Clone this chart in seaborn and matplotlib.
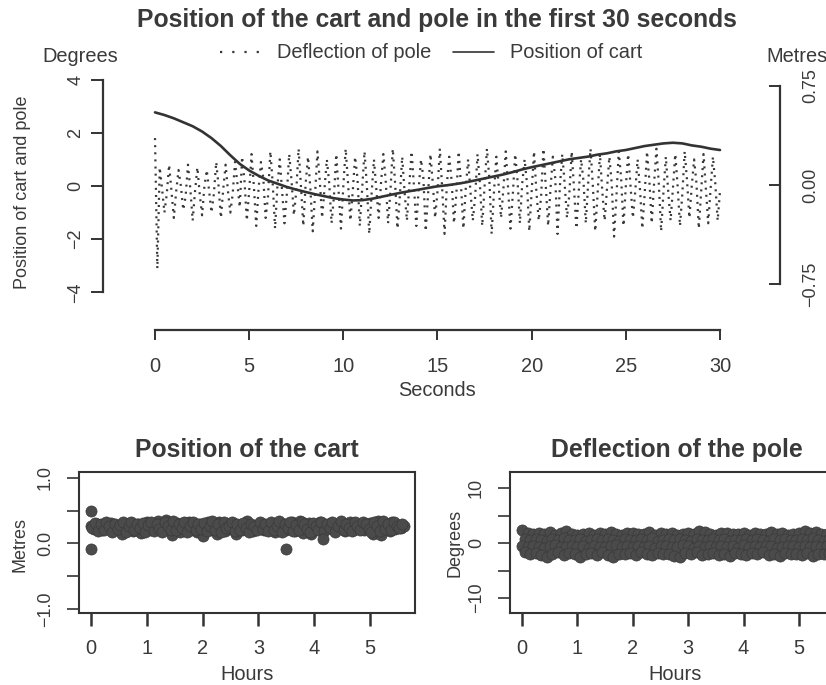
import numpy as np
import pandas as pd
import matplotlib
matplotlib.use("Agg")
import matplotlib.pyplot as plt
import seaborn as sns

# ---------------- data ----------------
# top panel: first 30 seconds (cart in metres every 0.5 s)
cart_metres = [0.55, 0.53, 0.505, 0.475, 0.445, 0.405, 0.355, 0.295, 0.225, 0.16,
               0.11, 0.07, 0.035, 0.01, -0.015, -0.035, -0.053, -0.07, -0.085, -0.1,
               -0.11, -0.117, -0.115, -0.105, -0.09, -0.075, -0.06, -0.047, -0.035, -0.022,
               -0.01, -0.002, 0.008, 0.02, 0.035, 0.05, 0.065, 0.08, 0.098, 0.118,
               0.135, 0.15, 0.165, 0.18, 0.195, 0.205, 0.215, 0.23, 0.24, 0.255,
               0.265, 0.28, 0.295, 0.305, 0.315, 0.32, 0.315, 0.30, 0.29, 0.275,
               0.265]

# pole deflection in degrees every 0.125 s
pole_degrees = [
    1.8, -3.1,
    0.7, -0.1, -1.0, -0.3, 0.8, -0.2, -1.2, -0.2, 0.6, 0.0, -0.9, -0.4,
    0.8, -0.1, -1.3, -0.2, 0.7, -0.3, -1.1, 0.0, 0.6, -0.2, -1.0, -0.3,
    0.9, 0.0, -1.2, -0.1, 0.8, -0.2, -1.0, -0.3, 0.9, 0.1, -0.8,
    1.1, 0.2, -1.3, -0.2, 1.2, 0.0, -1.5, -0.1, 0.9, 0.3, -1.2, -0.4,
    1.3, 0.1, -1.6, 0.0, 1.0, -0.2, -1.4, -0.3, 1.2, 0.2, -1.1, -0.2,
    1.4, 0.0, -1.5, 0.1, 1.1, -0.1, -1.7, -0.3, 1.3, 0.2, -1.2, -0.1,
    1.0, 0.1, -1.4, -0.4, 1.2, -0.2, -1.6, 0.0, 1.4, 0.1, -1.3, -0.2,
    1.1, 0.3, -1.5, -0.1, 1.3, 0.0, -1.8, -0.3, 1.0, -0.1, -1.2, 0.1,
    1.2, 0.2, -1.4, -0.2, 1.4, 0.1, -1.6, -0.4, 1.1, -0.2, -1.3, 0.0,
    1.3, 0.0, -1.5, -0.1, 1.0, 0.3, -1.7, -0.3, 1.2, 0.1, -1.2, -0.2,
    1.4, -0.1, -1.8, 0.1, 1.1, 0.2, -1.4, -0.3, 1.3, 0.0, -1.6, -0.1,
    1.0, -0.2, -1.3, -0.4, 1.2, 0.1, -1.5, 0.0, 1.4, 0.3, -1.8, -0.2,
    1.1, 0.0, -1.2, -0.1, 1.3, -0.1, -1.6, -0.3, 1.2, 0.2, -1.4, 0.1,
    1.0, 0.1, -1.7, -0.2, 1.3, -0.2, -1.3, -0.4, 1.4, 0.0, -1.5, -0.1,
    1.1, 0.3, -1.8, 0.0, 1.2, 0.1, -1.2, -0.3, 1.3, -0.1, -1.6, -0.2,
    1.0, 0.2, -1.4, 0.1, 1.4, 0.0, -1.7, -0.3, 1.2, -0.2, -1.3, -0.1,
    1.1, 0.1, -1.9, -0.4, 1.3, 0.3, -1.5, 0.0, 1.2, 0.0, -1.2, -0.2,
    1.0, -0.1, -1.6, -0.3, 1.3, 0.2, -1.4, 0.1, 1.4, 0.1, -1.7, -0.2,
    1.1, -0.2, -1.3, -0.1, 1.2, 0.0, -1.5, -0.3, 1.3, 0.2, -1.2, 0.0,
    1.0, 0.1, -1.6, -0.2, 1.2, -0.1, -1.4, -0.1, 1.1, 0.1, -1.3, -0.2]

# bottom panels: whole run in hours
cart_run_metres = [
    0.27, 0.22, 0.30, 0.25, 0.21, 0.29, 0.24, 0.31, 0.20, 0.26, 0.22, 0.15, 0.28, 0.23, 0.31, 0.19, 0.25, 0.30, 0.16, 0.24,
    0.32, 0.20, 0.27, 0.23, 0.34, 0.20, 0.29, 0.36, 0.22, 0.13, 0.26, 0.31, 0.18, 0.28, 0.24, 0.32, 0.21, 0.27, 0.17, 0.30,
    0.12, 0.25, 0.33, 0.21, 0.29, 0.14, 0.32, 0.24, 0.19, 0.28, 0.22, 0.31, 0.15, 0.26, 0.21, 0.30, 0.34, 0.23, 0.19, 0.27,
    0.24, 0.31, 0.20, 0.26, 0.22, 0.29, 0.17, 0.27, 0.23, 0.30, 0.21, 0.25, 0.32, 0.19, 0.28, 0.35, 0.16, 0.26, 0.31, 0.15,
    0.29, 0.22, 0.33, 0.20, 0.27, 0.24, 0.31, 0.21, 0.28, 0.23, 0.30, 0.19, 0.26, 0.32, 0.21, 0.27, 0.24, 0.29, 0.20, 0.25,
    0.31, 0.15, 0.27, 0.35, 0.13, 0.25, 0.30, 0.19, 0.32, 0.22, 0.28, 0.24, 0.27]
cart_run_metres_b = [
    0.23, 0.31, 0.19, 0.29, 0.21, 0.33, 0.26, 0.18, 0.30, 0.22, 0.28, 0.32, 0.17, 0.27, 0.33, 0.20, 0.29, 0.23, 0.31, 0.18,
    0.28, 0.33, 0.19, 0.30, 0.22, 0.17, 0.32, 0.26, 0.20, 0.34, 0.21, 0.29, 0.23, 0.32, 0.18, 0.27, 0.33, 0.20, 0.30, 0.22,
    0.31, 0.19, 0.27, 0.34, 0.21, 0.29, 0.17, 0.32, 0.23, 0.27, 0.33, 0.19, 0.30, 0.21, 0.31, 0.24, 0.18, 0.29, 0.26, 0.20,
    0.33, 0.22, 0.30, 0.19, 0.32, 0.21, 0.27, 0.34, 0.18, 0.30, 0.23, 0.32, 0.19, 0.28, 0.21, 0.33, 0.29, 0.22, 0.17, 0.31,
    0.27, 0.20, 0.33, 0.19, 0.30, 0.23, 0.32, 0.18, 0.27, 0.34, 0.21, 0.29, 0.23, 0.19, 0.32, 0.26, 0.21, 0.33, 0.29, 0.22,
    0.17, 0.32, 0.27, 0.19, 0.34, 0.22, 0.30, 0.21, 0.32, 0.26, 0.23, 0.29]
cart_outlier_hours = [0.0, 0.0, 3.5, 4.15]
cart_outlier_metres = [0.50, -0.08, -0.08, 0.07]

pole_hi = [2.4, 1.8, 1.6, 1.9, 1.7, 2.0, 1.5, 1.8, 2.1, 1.6,
           1.4, 1.7, 1.9, 1.5, 1.8, 1.6, 2.0, 1.7, 1.5, 1.9,
           1.8, 1.6, 1.7, 2.0, 1.5, 1.8, 1.6, 1.9, 1.4, 1.7,
           1.8, 1.6, 2.1, 2.0, 1.7, 1.5, 1.9, 1.8, 1.6, 1.7,
           1.9, 1.5, 1.8, 1.6, 1.7, 2.0, 1.6, 1.8, 1.5, 1.7,
           1.9, 2.2, 1.8, 2.0, 1.6, 1.7, 1.8]
pole_up = [0.7, 0.5, 0.8, 0.6, 0.4, 0.7, 0.5, 0.9, 0.6, 0.5,
           0.7, 0.4, 0.6, 0.8, 0.5, 0.7, 0.6, 0.4, 0.8, 0.6,
           0.5, 0.7, 0.6, 0.9, 0.4, 0.6, 0.7, 0.5, 0.8, 0.6,
           0.4, 0.7, 0.6, 0.5, 0.8, 0.6, 0.7, 0.4, 0.6, 0.5,
           0.8, 0.6, 0.7, 0.5, 0.4, 0.7, 0.6, 0.8, 0.5, 0.6,
           0.7, 0.5, 0.9, 0.6, 0.4, 0.7, 0.6]
pole_dn = [-0.6, -0.8, -0.5, -0.7, -0.9, -0.6, -0.4, -0.7, -0.8, -0.5,
           -0.7, -0.6, -0.9, -0.5, -0.7, -0.8, -0.6, -0.4, -0.7, -0.6,
           -0.8, -0.5, -0.7, -0.6, -0.9, -0.5, -0.6, -0.8, -0.7, -0.4,
           -0.6, -0.9, -0.5, -0.7, -0.6, -0.8, -0.5, -0.7, -0.6, -0.9,
           -0.4, -0.7, -0.6, -0.8, -0.5, -0.6, -0.9, -0.7, -0.5, -0.6,
           -0.8, -0.6, -0.7, -0.5, -0.8, -0.6, -0.7]
pole_lo = [-1.7, -2.0, -1.8, -2.2, -2.6, -1.9, -1.7, -2.1, -1.8, -2.0,
           -2.6, -1.9, -1.8, -2.1, -1.7, -2.2, -2.5, -1.9, -2.0, -1.8,
           -2.2, -1.7, -1.9, -2.1, -1.8, -2.0, -1.9, -2.3, -2.6, -1.8,
           -2.0, -1.7, -2.2, -1.9, -1.8, -2.1, -2.0, -2.4, -1.8, -1.9,
           -2.1, -1.8, -2.0, -1.7, -2.2, -1.9, -2.4, -1.8, -2.0, -1.9,
           -2.1, -1.8, -2.3, -1.9, -2.0, -1.8, -2.1]

seconds_ticks = [0, 5, 10, 15, 20, 25, 30]
degree_ticks = [-4, -2, 0, 2, 4]
metre_ticks = [-0.75, 0.0, 0.75]
metre_labels = ["\u22120.75", "0.00", "0.75"]
hour_ticks = [0, 1, 2, 3, 4, 5]

# sample times
cart_seconds = 0.5 * np.arange(len(cart_metres))
pole_seconds = 0.125 * np.arange(len(pole_degrees))
cart_hours = 0.05 * np.arange(len(cart_run_metres))
cart_hours_b = 0.025 + 0.05 * np.arange(len(cart_run_metres_b))
pole_hours = 0.1 * np.arange(len(pole_hi))
pole_hours_b = 0.05 + 0.1 * np.arange(len(pole_up))

# ---------------- style ----------------
sns.set_theme(style="ticks")
plt.rcParams["font.family"] = ["Liberation Sans", "DejaVu Sans"]
TXT = "#3a3a3a"
INK = "#333333"
FS = 14.4      # horizontal text
FSV = 13       # rotated text
FST = 17.8     # titles
plt.rcParams.update({
    "text.color": TXT, "axes.labelcolor": TXT,
    "xtick.color": INK, "ytick.color": INK,
    "xtick.labelcolor": TXT, "ytick.labelcolor": TXT,
    "axes.edgecolor": INK, "font.size": FS,
    "xtick.labelsize": FS, "ytick.labelsize": FSV,
})

W, H = 826, 685
fig = plt.figure(figsize=(W / 100, H / 100), dpi=100)
fig.patch.set_facecolor("white")


def rect(x0, x1, y0, y1):
    return [x0 / W, (H - y1) / H, (x1 - x0) / W, (y1 - y0) / H]


# ---------------- top panel ----------------
ax = fig.add_axes(rect(103, 780, 75, 330))
ax.set_facecolor("none")
df_pole = pd.DataFrame({"t": pole_seconds, "v": pole_degrees})
sns.lineplot(data=df_pole, x="t", y="v", ax=ax, color="#383838", lw=1.6,
             label="Deflection of pole", errorbar=None, sort=False)
ax.get_lines()[-1].set_dashes([0.9, 2.3])
ax.set_xlim(-2.761, 33.186)
ax.set_ylim(-5.41, 4.17)
for s in ["top", "right"]:
    ax.spines[s].set_visible(False)
ax.spines["left"].set_bounds(-4, 4)
ax.spines["bottom"].set_bounds(0, 30)
ax.spines["left"].set_linewidth(1.6)
ax.spines["bottom"].set_linewidth(1.6)
ax.set_xticks(seconds_ticks)
ax.set_yticks(degree_ticks)
ax.set_yticklabels([str(v).replace("-", "\u2212") for v in degree_ticks],
                   rotation=90, va="center")
ax.tick_params(axis="x", length=7.5, width=1.4, pad=12)
ax.tick_params(axis="y", length=8.5, width=1.4, pad=5)
ax.set_xlabel("")
ax.set_ylabel("")

ax2 = ax.twinx()
df_cart = pd.DataFrame({"t": cart_seconds, "m": cart_metres})
sns.lineplot(data=df_cart, x="t", y="m", ax=ax2, color=INK, lw=1.9,
             label="Position of cart", errorbar=None)
ax2.set_ylim(-1.098, 0.833)
for s in ["top", "left", "bottom"]:
    ax2.spines[s].set_visible(False)
ax2.spines["right"].set_bounds(-0.75, 0.75)
ax2.spines["right"].set_linewidth(1.6)
ax2.set_yticks(metre_ticks)
ax2.set_yticklabels(metre_labels, rotation=90, va="center")
ax2.tick_params(axis="y", direction="in", length=8, width=1.4, pad=16)
ax2.set_ylabel("")

h1, l1 = ax.get_legend_handles_labels()
h2, l2 = ax2.get_legend_handles_labels()
if ax.get_legend():
    ax.get_legend().remove()
if ax2.get_legend():
    ax2.get_legend().remove()
leg = fig.legend(h1 + h2, l1 + l2, loc="center", bbox_to_anchor=(431 / W, 1 - 53 / H),
                 ncol=2, frameon=False, fontsize=FS, handlelength=2.05,
                 handletextpad=0.8, columnspacing=1.1)
leg.get_lines()[0].set_dashes([1.0, 4.5])
leg.get_lines()[1].set_linewidth(1.2)

fig.text(437 / W, 1 - 20 / H, "Position of the cart and pole in the first 30 seconds",
         ha="center", va="center", fontsize=FST, fontweight="bold")
fig.text(80 / W, 1 - 57 / H, "Degrees", ha="center", va="center", fontsize=FS)
fig.text(797 / W, 1 - 57 / H, "Metres", ha="center", va="center", fontsize=FS)
fig.text(23 / W, 1 - 192 / H, "Position of cart and pole", ha="center",
         va="center", rotation=90, fontsize=FSV)
fig.text(437 / W, 1 - 390 / H, "Seconds", ha="center", va="center", fontsize=FS)

# ---------------- bottom panels ----------------
PT = "#4b4b4b"
EDGE = "#3a3a3a"
MS = 64


def style_box(a):
    for s in a.spines.values():
        s.set_visible(True)
        s.set_linewidth(1.5)
    a.tick_params(axis="x", length=9, width=1.8, pad=10)
    a.tick_params(axis="y", length=9, width=1.2, pad=9)
    a.set_xlabel("")
    a.set_ylabel("")


axl = fig.add_axes(rect(79, 415, 472, 613))
for hx, vy in ((cart_hours, cart_run_metres), (cart_hours_b, cart_run_metres_b),
               (cart_outlier_hours, cart_outlier_metres)):
    sns.scatterplot(x=hx, y=vy, ax=axl, s=MS, color=PT, edgecolor=EDGE,
                    linewidth=0.5, legend=False)
axl.set_xlim(-0.215, 5.806)
axl.set_ylim(-1.06, 1.09)
axl.set_xticks(hour_ticks)
axl.set_yticks([-1.0, -0.5, 0.0, 0.5, 1.0])
axl.set_yticklabels(["\u22121.0", "", "0.0", "", "1.0"], rotation=90, va="center")
style_box(axl)

axr = fig.add_axes(rect(510, 846, 472, 613))
for hx, vy in ((pole_hours, pole_hi), (pole_hours_b, pole_up),
               (pole_hours, pole_dn), (pole_hours_b, pole_lo)):
    sns.scatterplot(x=hx, y=vy, ax=axr, s=MS, color=PT, edgecolor=EDGE,
                    linewidth=0.5, legend=False)
axr.set_xlim(-0.217, 5.848)
axr.set_ylim(-12.7, 12.9)
axr.set_xticks(hour_ticks)
axr.set_yticks([-10, -5, 0, 5, 10])
axr.set_yticklabels(["\u221210", "", "0", "", "10"], rotation=90, va="center")
style_box(axr)

fig.text(247 / W, 1 - 450 / H, "Position of the cart", ha="center", va="center",
         fontsize=FST, fontweight="bold")
fig.text(677 / W, 1 - 450 / H, "Deflection of the pole", ha="center", va="center",
         fontsize=FST, fontweight="bold")
fig.text(247 / W, 1 - 674 / H, "Hours", ha="center", va="center", fontsize=FS)
fig.text(675 / W, 1 - 674 / H, "Hours", ha="center", va="center", fontsize=FS)
fig.text(20 / W, 1 - 545 / H, "Metres", ha="center", va="center", rotation=90, fontsize=FSV)
fig.text(455 / W, 1 - 543 / H, "Degrees", ha="center", va="center", rotation=90, fontsize=FSV)

fig.savefig("out.png", dpi=100, facecolor="white")
